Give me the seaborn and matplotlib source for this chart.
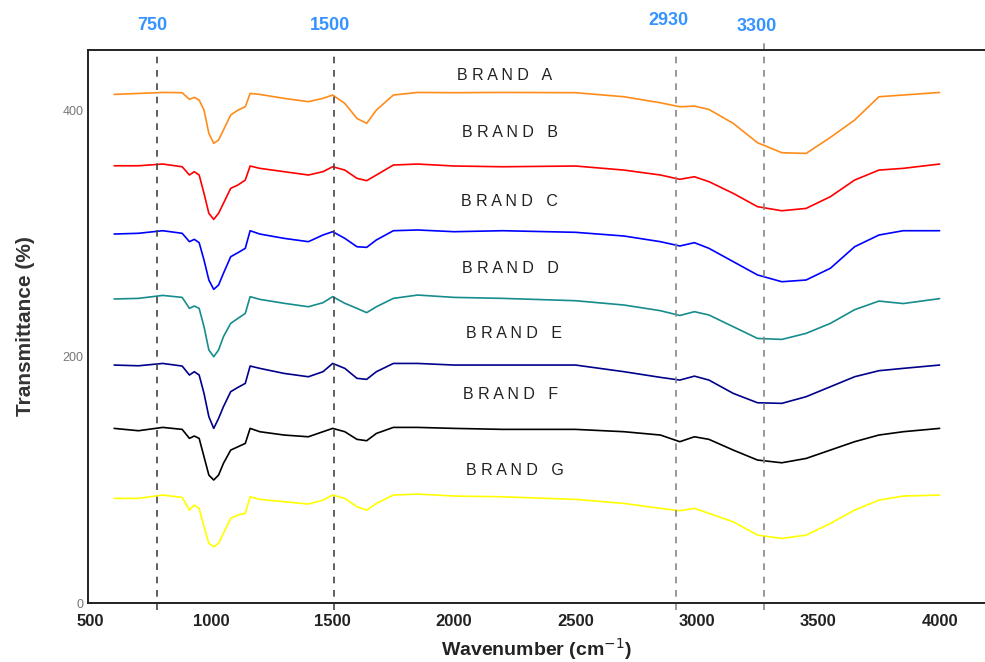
import matplotlib
matplotlib.use('Agg')
import matplotlib.pyplot as plt
import pandas as pd
import seaborn as sns

# wavenumber grid (cm-1) shared by all spectra
wavenumber = [600, 700, 800, 880, 910, 930, 950, 970, 990, 1010, 1030, 1050, 1080, 1110,
              1140, 1160, 1200, 1300, 1400, 1460, 1500, 1550, 1600, 1640, 1680, 1750, 1850,
              2000, 2200, 2500, 2700, 2850, 2930, 2990, 3050, 3150, 3250, 3350, 3450, 3550,
              3650, 3750, 3850, 4000]

brand_a = [412.7, 413.5, 414.3, 414.1, 408.7, 410.3, 408.1, 400.0, 381.1, 373.0, 375.7, 383.8,
           396.0, 400.0, 402.7, 413.5, 412.7, 409.5, 406.8, 409.5, 412.2, 405.4, 393.2, 389.2,
           400.0, 412.2, 414.3, 414.1, 414.3, 414.1, 410.8, 405.9, 402.7, 403.2, 400.5, 389.2,
           373.5, 365.4, 364.8, 377.8, 391.9, 410.8, 412.2, 414.3]
brand_b = [354.8, 354.8, 356.2, 354.0, 347.3, 350.0, 347.3, 332.4, 316.2, 311.3, 316.2, 324.3,
           336.5, 339.2, 343.2, 354.6, 352.7, 350.0, 347.3, 350.0, 354.0, 351.3, 344.6, 342.7,
           347.3, 355.4, 356.2, 354.6, 354.0, 354.6, 351.3, 347.3, 343.8, 345.9, 341.9, 332.4,
           321.6, 318.3, 320.2, 329.7, 343.2, 351.3, 352.7, 356.2]
brand_c = [299.4, 300.0, 302.1, 300.0, 293.2, 295.1, 292.4, 278.3, 262.1, 254.5, 258.0, 267.5,
           281.0, 284.3, 287.8, 302.1, 299.4, 295.9, 293.2, 298.6, 301.3, 295.9, 289.1, 288.6,
           294.6, 302.1, 302.7, 301.3, 302.1, 300.8, 297.8, 293.2, 289.7, 292.4, 287.8, 277.0,
           266.2, 260.7, 262.1, 271.6, 289.1, 298.6, 302.1, 302.1]
brand_d = [246.7, 247.2, 249.6, 248.0, 239.1, 241.0, 239.1, 224.2, 205.3, 199.9, 205.3, 216.1,
           226.9, 231.0, 235.0, 248.6, 246.4, 243.2, 240.4, 243.7, 248.6, 243.2, 239.1, 235.6,
           240.4, 247.2, 249.9, 248.0, 247.2, 245.3, 241.8, 237.2, 233.3, 236.4, 233.7, 224.2,
           214.7, 213.9, 218.8, 226.9, 238.0, 245.0, 243.0, 247.0]
brand_e = [193.1, 192.5, 194.4, 192.3, 185.0, 187.7, 185.0, 170.1, 151.2, 141.7, 149.8, 159.3,
           171.5, 175.0, 178.2, 192.3, 190.4, 186.3, 183.6, 187.7, 194.4, 190.4, 182.3, 181.5,
           187.7, 194.4, 194.4, 193.1, 193.1, 193.1, 187.7, 183.1, 180.9, 184.1, 180.9, 170.1,
           162.5, 162.0, 167.4, 175.5, 183.6, 188.5, 190.4, 193.1]
brand_f = [141.7, 139.8, 142.5, 140.9, 133.6, 135.5, 133.6, 118.7, 103.8, 99.8, 103.8, 113.3,
           124.1, 126.8, 129.5, 141.7, 139.0, 136.3, 134.9, 139.0, 141.7, 139.0, 132.8, 131.7,
           137.6, 142.5, 142.5, 141.7, 140.9, 140.9, 139.0, 136.3, 130.9, 134.9, 132.8, 124.1,
           116.0, 113.8, 117.3, 124.1, 130.9, 136.3, 139.0, 141.7]
brand_g = [84.9, 84.9, 87.6, 85.7, 75.4, 79.5, 76.8, 61.9, 48.4, 45.7, 48.4, 56.5,
           68.7, 71.4, 72.7, 86.2, 84.1, 82.2, 80.3, 83.5, 87.6, 84.9, 78.1, 75.4,
           80.8, 87.6, 88.4, 86.8, 86.2, 84.1, 80.8, 76.8, 74.9, 76.8, 72.7, 65.9,
           55.1, 52.4, 55.1, 64.6, 75.4, 83.5, 86.8, 87.6]

brands = ['BRAND A', 'BRAND B', 'BRAND C', 'BRAND D', 'BRAND E', 'BRAND F', 'BRAND G']
spectra = [brand_a, brand_b, brand_c, brand_d, brand_e, brand_f, brand_g]
colors = ['#FF8C1A', '#FF0000', '#0000FF', '#168C8C', '#00008B', '#000000', '#FFFF00']

# reference band lines and their labels
band_pos = [776, 1506, 2915, 3275]
band_labels = ['750', '1500', '2930', '3300']

rows = []
for name, vals in zip(brands, spectra):
    for w, t in zip(wavenumber, vals):
        rows.append({'Wavenumber': w, 'Transmittance': t, 'Brand': name})
df = pd.DataFrame(rows)

sns.set_style('white')
plt.rcParams['font.family'] = ['Liberation Sans', 'DejaVu Sans']

fig = plt.figure(figsize=(9.85, 6.62), dpi=100)
ax = fig.add_axes([0.0893, 0.0891, 0.9107, 0.8353])

sns.lineplot(data=df, x='Wavenumber', y='Transmittance', hue='Brand', palette=colors,
             estimator=None, sort=False, legend=False, lw=1.2, ax=ax)

ax.set_xlim(492, 4187)
ax.set_ylim(0, 448.7)

# dashed band markers
line_cols = ['#444444', '#444444', '#888888', '#888888']
tops = [0.99, 1.0, 1.0, 1.013]
for x, c, t in zip(band_pos, line_cols, tops):
    ax.axvline(x, ymin=-0.013, ymax=t, color=c, ls=(0, (4, 4)), lw=1.2, clip_on=False)

lab_x = [756, 1489, 2885, 3248]
lab_y = [1.045, 1.045, 1.054, 1.043]
for x, y, s in zip(lab_x, lab_y, band_labels):
    ax.annotate(s, xy=(x, y), xycoords=('data', 'axes fraction'), ha='center', va='center',
                color='#3593FF', fontsize=13, fontweight='bold')

# brand names, letter-spaced
name_x = [2210, 2230, 2230, 2234, 2247, 2234, 2251]
name_y = [428.4, 382.2, 325.4, 271.8, 219.1, 168.8, 107.9]
for x, y, s in zip(name_x, name_y, brands):
    ax.text(x, y, ' '.join(s.replace(' ', '')[:5]) + '   ' + s[-1], ha='center', va='center',
            fontsize=11.5, color='#222222')

ax.set_xticks(range(500, 4001, 500))
ax.set_yticks([0, 200, 400])
ax.tick_params(axis='x', length=0, pad=8, labelsize=12, labelcolor='#222222')
ax.tick_params(axis='y', length=0, pad=3, labelsize=9, labelcolor='#777777')
for lbl in ax.get_xticklabels():
    lbl.set_fontweight('bold')

ax.set_xlabel('Wavenumber (cm$^{-1}$)', fontsize=14, fontweight='bold', color='#222222', labelpad=5)
ax.set_ylabel('Transmittance (%)', fontsize=15, fontweight='bold', color='#333333', labelpad=20)

ax.spines['right'].set_visible(False)
for sp in ['left', 'bottom', 'top']:
    ax.spines[sp].set_color('#222222')
    ax.spines[sp].set_linewidth(1.4)

fig.savefig('out.png', dpi=100)
